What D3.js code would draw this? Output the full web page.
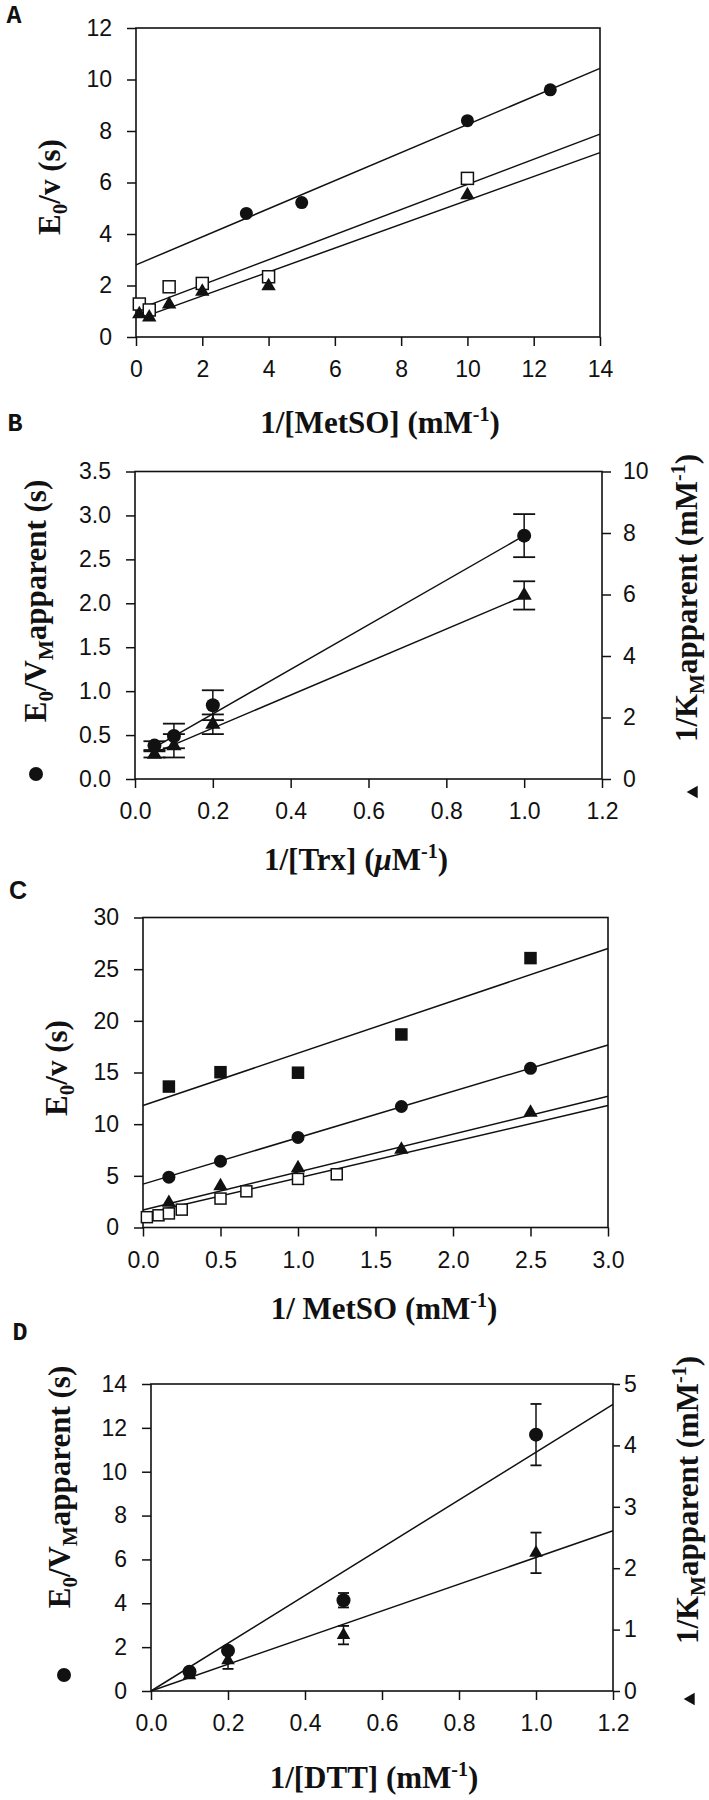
<!DOCTYPE html>
<html><head><meta charset="utf-8">
<script src="https://cdn.jsdelivr.net/npm/d3@7/dist/d3.min.js"></script>
<style>
html,body{margin:0;padding:0;background:#fff;}
svg{display:block;}
.tick text{font-family:"Liberation Sans",Arial,sans-serif;font-size:23px;fill:#111;}
.tick line{stroke:#111;stroke-width:1.5;}
.domain{display:none;}
.title{font-family:"Liberation Serif","Times New Roman",serif;font-weight:bold;font-size:31px;fill:#111;}
.plabel{font-family:"Liberation Mono","Courier New",monospace;font-weight:bold;font-size:25px;fill:#111;}
</style></head><body>
<script>
// ================= DATA =================
// Panel A
const aXTicks=[0,2,4,6,8,10,12,14];
const aYTicks=[0,2,4,6,8,10,12];
const aCircleX=[3.33,5,10,12.5];
const aCircleY=[4.8,5.22,8.4,9.6];
const aSquareX=[0.1,0.4,1,2,4,10];
const aSquareY=[1.28,1.05,1.95,2.08,2.34,6.16];
const aTriX=[0.1,0.4,1,2,4,10];
const aTriY=[0.89,0.76,1.27,1.76,1.98,5.51];
const aCircleLineX=[0,14], aCircleLineY=[2.8,10.43];
const aSquareLineX=[0.25,14], aSquareLineY=[1.17,7.88];
const aTriLineX=[0.45,14], aTriLineY=[0.88,7.16];

// Panel B
const bXTicks=[0,0.2,0.4,0.6,0.8,1.0,1.2];
const bYTicks=[0,0.5,1.0,1.5,2.0,2.5,3.0,3.5];
const bRTicks=[0,2,4,6,8,10];
const bX=[0.05,0.1,0.2,1.0];
const bCircleY=[0.38,0.49,0.84,2.77];
const bCircleErr=[0.05,0.14,0.17,0.245];
const bTriY=[0.8,1.08,1.78,5.97];
const bTriErr=[0.1,0.38,0.32,0.46];
const bCircleLineX=[0.05,1.0], bCircleLineY=[0.36,2.77];
const bTriLineX=[0.05,1.0], bTriLineY=[0.85,5.95];

// Panel C
const cXTicks=[0,0.5,1.0,1.5,2.0,2.5,3.0];
const cYTicks=[0,5,10,15,20,25,30];
const cX=[0.167,0.5,1.0,1.667,2.5];
const cFilledSqY=[13.64,15.03,14.98,18.68,26.07];
const cCircleY=[4.87,6.41,8.72,11.71,15.4];
const cTriY=[2.4,4.0,5.74,7.53,11.13];
const cOpenSqX=[0.025,0.1,0.167,0.25,0.5,0.667,1.0,1.25];
const cOpenSqY=[1.0,1.18,1.36,1.73,2.8,3.5,4.7,5.15];
const cFilledSqLineX=[0,3], cFilledSqLineY=[11.8,27.0];
const cCircleLineX=[0,3], cCircleLineY=[4.2,17.66];
const cTriLineX=[0,3], cTriLineY=[1.7,12.7];
const cOpenSqLineX=[0,3], cOpenSqLineY=[1.3,11.8];

// Panel D
const dXTicks=[0,0.2,0.4,0.6,0.8,1.0,1.2];
const dYTicks=[0,2,4,6,8,10,12,14];
const dRTicks=[0,1,2,3,4,5];
const dX=[0.1,0.2,0.5,1.0];
const dCircleY=[0.88,1.84,4.14,11.69];
const dCircleErr=[0,0,0.33,1.4];
const dTriY=[0.254,0.5,0.91,2.25];
const dTriErr=[0,0.14,0.15,0.33];
const dCircleLineX=[0,1.2], dCircleLineY=[0,13.07];
const dTriLineX=[0,1.2], dTriLineY=[0,2.61];

// ================= DRAW =================
const svg=d3.select('body').append('svg').attr('width',709).attr('height',1800);
const f1=d3.format('.1f'), f0=d3.format('d');

function rich(sel,parts){
  parts.forEach(p=>{
    const t=sel.append('tspan').text(p.t);
    if(p.sub) t.attr('baseline-shift','-7').style('font-size','21px');
    if(p.sup) t.attr('baseline-shift','12').style('font-size','20px');
    if(p.it) t.style('font-style','italic');
  });
}

function panel(o){
  const x=d3.scaleLinear().domain(o.xDom).range([o.left,o.right]);
  const y=d3.scaleLinear().domain(o.yDom).range([o.bottom,o.top]);
  const yr=o.rDom?d3.scaleLinear().domain(o.rDom).range([o.bottom,o.top]):null;
  const g=svg.append('g');
  g.append('g').attr('transform',`translate(0,${o.bottom})`)
    .call(d3.axisBottom(x).tickValues(o.xTicks).tickFormat(o.xFmt).tickSizeInner(9).tickSizeOuter(0).tickPadding(15));
  g.append('g').attr('transform',`translate(${o.left},0)`)
    .call(d3.axisLeft(y).tickValues(o.yTicks).tickFormat(o.yFmt).tickSizeInner(9).tickSizeOuter(0).tickPadding(15));
  if(yr){
    g.append('g').attr('transform',`translate(${o.right},0)`)
      .call(d3.axisRight(yr).tickValues(o.rTicks).tickFormat(f0).tickSizeInner(o.rTick).tickSizeOuter(0).tickPadding(o.rPad));
  }
  g.append('rect').attr('x',o.left).attr('y',o.top).attr('width',o.right-o.left).attr('height',o.bottom-o.top)
    .attr('fill','none').attr('stroke','#111').attr('stroke-width',1.6);
  return {g,x,y,yr};
}
function line(p,xs,ys,sc){
  const ysc=sc||p.y;
  p.g.append('line').attr('x1',p.x(xs[0])).attr('y1',ysc(ys[0])).attr('x2',p.x(xs[1])).attr('y2',ysc(ys[1]))
    .attr('stroke','#111').attr('stroke-width',1.5);
}
function errs(p,xs,ys,es,sc,cap){
  const ysc=sc||p.y;
  xs.forEach((v,i)=>{
    if(!es[i]) return;
    const cx=p.x(v), y1=ysc(ys[i]-es[i]), y2=ysc(ys[i]+es[i]);
    p.g.append('line').attr('x1',cx).attr('x2',cx).attr('y1',y1).attr('y2',y2).attr('stroke','#111').attr('stroke-width',1.5);
    [y1,y2].forEach(yy=>p.g.append('line').attr('x1',cx-cap/2).attr('x2',cx+cap/2).attr('y1',yy).attr('y2',yy).attr('stroke','#111').attr('stroke-width',1.8));
  });
}
function circles(p,xs,ys,r,sc){
  const ysc=sc||p.y;
  p.g.selectAll(null).data(xs).enter().append('circle')
    .attr('cx',d=>p.x(d)).attr('cy',(d,i)=>ysc(ys[i])).attr('r',r).attr('fill','#111');
}
function tris(p,xs,ys,size,sc){
  const ysc=sc||p.y;
  const sym=d3.symbol().type(d3.symbolTriangle).size(size);
  p.g.selectAll(null).data(xs).enter().append('path').attr('d',sym)
    .attr('transform',(d,i)=>`translate(${p.x(d)},${ysc(ys[i])})`).attr('fill','#111');
}
function squares(p,xs,ys,s,filled){
  p.g.selectAll(null).data(xs).enter().append('rect')
    .attr('x',d=>p.x(d)-s/2).attr('y',(d,i)=>p.y(ys[i])-s/2).attr('width',s).attr('height',s)
    .attr('fill',filled?'#111':'#fff').attr('stroke','#111').attr('stroke-width',1.5);
}
function xTitle(cx,by,parts){ rich(svg.append('text').attr('class','title').attr('x',cx).attr('y',by).attr('text-anchor','middle'),parts); }
function yTitle(bx,cy,parts){ rich(svg.append('text').attr('class','title').attr('text-anchor','middle').attr('transform',`translate(${bx},${cy}) rotate(-90)`),parts); }
function pLabel(x,y,t,sans){ svg.append('text').attr('class','plabel').attr('x',x).attr('y',y).attr('text-anchor','middle')
  .style('font-family',sans?'"Liberation Sans",Arial,sans-serif':null).text(t); }

// ---- Panel A ----
const A=panel({left:136,right:600,top:28,bottom:337,xDom:[0,14],yDom:[0,12],xTicks:aXTicks,yTicks:aYTicks,xFmt:f0,yFmt:f0});
line(A,aCircleLineX,aCircleLineY); line(A,aSquareLineX,aSquareLineY); line(A,aTriLineX,aTriLineY);
squares(A,aSquareX,aSquareY,12,false);
tris(A,aTriX,aTriY,90);
circles(A,aCircleX,aCircleY,6.5);
pLabel(14,23,'A');
xTitle(380,433,[{t:'1/[MetSO] (mM'},{t:'-1',sup:1},{t:')'}]);
yTitle(60,187,[{t:'E'},{t:'0',sub:1},{t:'/v (s)'}]);

// ---- Panel B ----
const B=panel({left:135,right:602,top:471.5,bottom:779,xDom:[0,1.2],yDom:[0,3.5],rDom:[0,10],xTicks:bXTicks,yTicks:bYTicks,rTicks:bRTicks,xFmt:f1,yFmt:f1,rTick:9,rPad:12});
line(B,bCircleLineX,bCircleLineY); line(B,bTriLineX,bTriLineY,B.yr);
errs(B,bX,bCircleY,bCircleErr,null,22); errs(B,bX,bTriY,bTriErr,B.yr,22);
tris(B,bX,bTriY,100,B.yr);
circles(B,bX,bCircleY,7);
pLabel(15,431,'B');
xTitle(356,870,[{t:'1/[Trx] ('},{t:'μ',it:1},{t:'M'},{t:'-1',sup:1},{t:')'}]);
yTitle(46,601,[{t:'E'},{t:'0',sub:1},{t:'/V'},{t:'M',sub:1},{t:'apparent (s)'}]);
yTitle(697,598,[{t:'1/K'},{t:'M',sub:1},{t:'apparent (mM'},{t:'-1',sup:1},{t:')'}]);
svg.append('circle').attr('cx',36).attr('cy',774).attr('r',7).attr('fill','#111');
svg.append('path').attr('d',d3.symbol().type(d3.symbolTriangle).size(70)).attr('transform','translate(694,792) rotate(-90)').attr('fill','#111');

// ---- Panel C ----
const C=panel({left:143,right:608,top:917.5,bottom:1227.5,xDom:[0,3],yDom:[0,30],xTicks:cXTicks,yTicks:cYTicks,xFmt:f1,yFmt:f0});
line(C,cFilledSqLineX,cFilledSqLineY); line(C,cCircleLineX,cCircleLineY); line(C,cTriLineX,cTriLineY); line(C,cOpenSqLineX,cOpenSqLineY);
squares(C,cOpenSqX,cOpenSqY,11,false);
tris(C,cX,cTriY,90);
circles(C,cX,cCircleY,6.5);
squares(C,cX,cFilledSqY,11,true);
pLabel(18,899,'C',true);
xTitle(384,1319,[{t:'1/ MetSO (mM'},{t:'-1',sup:1},{t:')'}]);
yTitle(67,1068,[{t:'E'},{t:'0',sub:1},{t:'/v (s)'}]);

// ---- Panel D ----
const D=panel({left:151,right:613,top:1384,bottom:1691,xDom:[0,1.2],yDom:[0,14],rDom:[0,5],xTicks:dXTicks,yTicks:dYTicks,rTicks:dRTicks,xFmt:f1,yFmt:f0,rTick:7,rPad:4});
line(D,dCircleLineX,dCircleLineY); line(D,dTriLineX,dTriLineY,D.yr);
errs(D,dX,dCircleY,dCircleErr,null,11); errs(D,dX,dTriY,dTriErr,D.yr,11);
tris(D,dX,dTriY,80,D.yr);
circles(D,dX,dCircleY,7);
pLabel(20,1340,'D');
xTitle(374,1788,[{t:'1/[DTT] (mM'},{t:'-1',sup:1},{t:')'}]);
yTitle(70,1487,[{t:'E'},{t:'0',sub:1},{t:'/V'},{t:'M',sub:1},{t:'apparent (s)'}]);
yTitle(698,1500,[{t:'1/K'},{t:'M',sub:1},{t:'apparent (mM'},{t:'-1',sup:1},{t:')'}]);
svg.append('circle').attr('cx',64).attr('cy',1675).attr('r',7).attr('fill','#111');
svg.append('path').attr('d',d3.symbol().type(d3.symbolTriangle).size(70)).attr('transform','translate(691,1699) rotate(-90)').attr('fill','#111');
</script></body></html>
